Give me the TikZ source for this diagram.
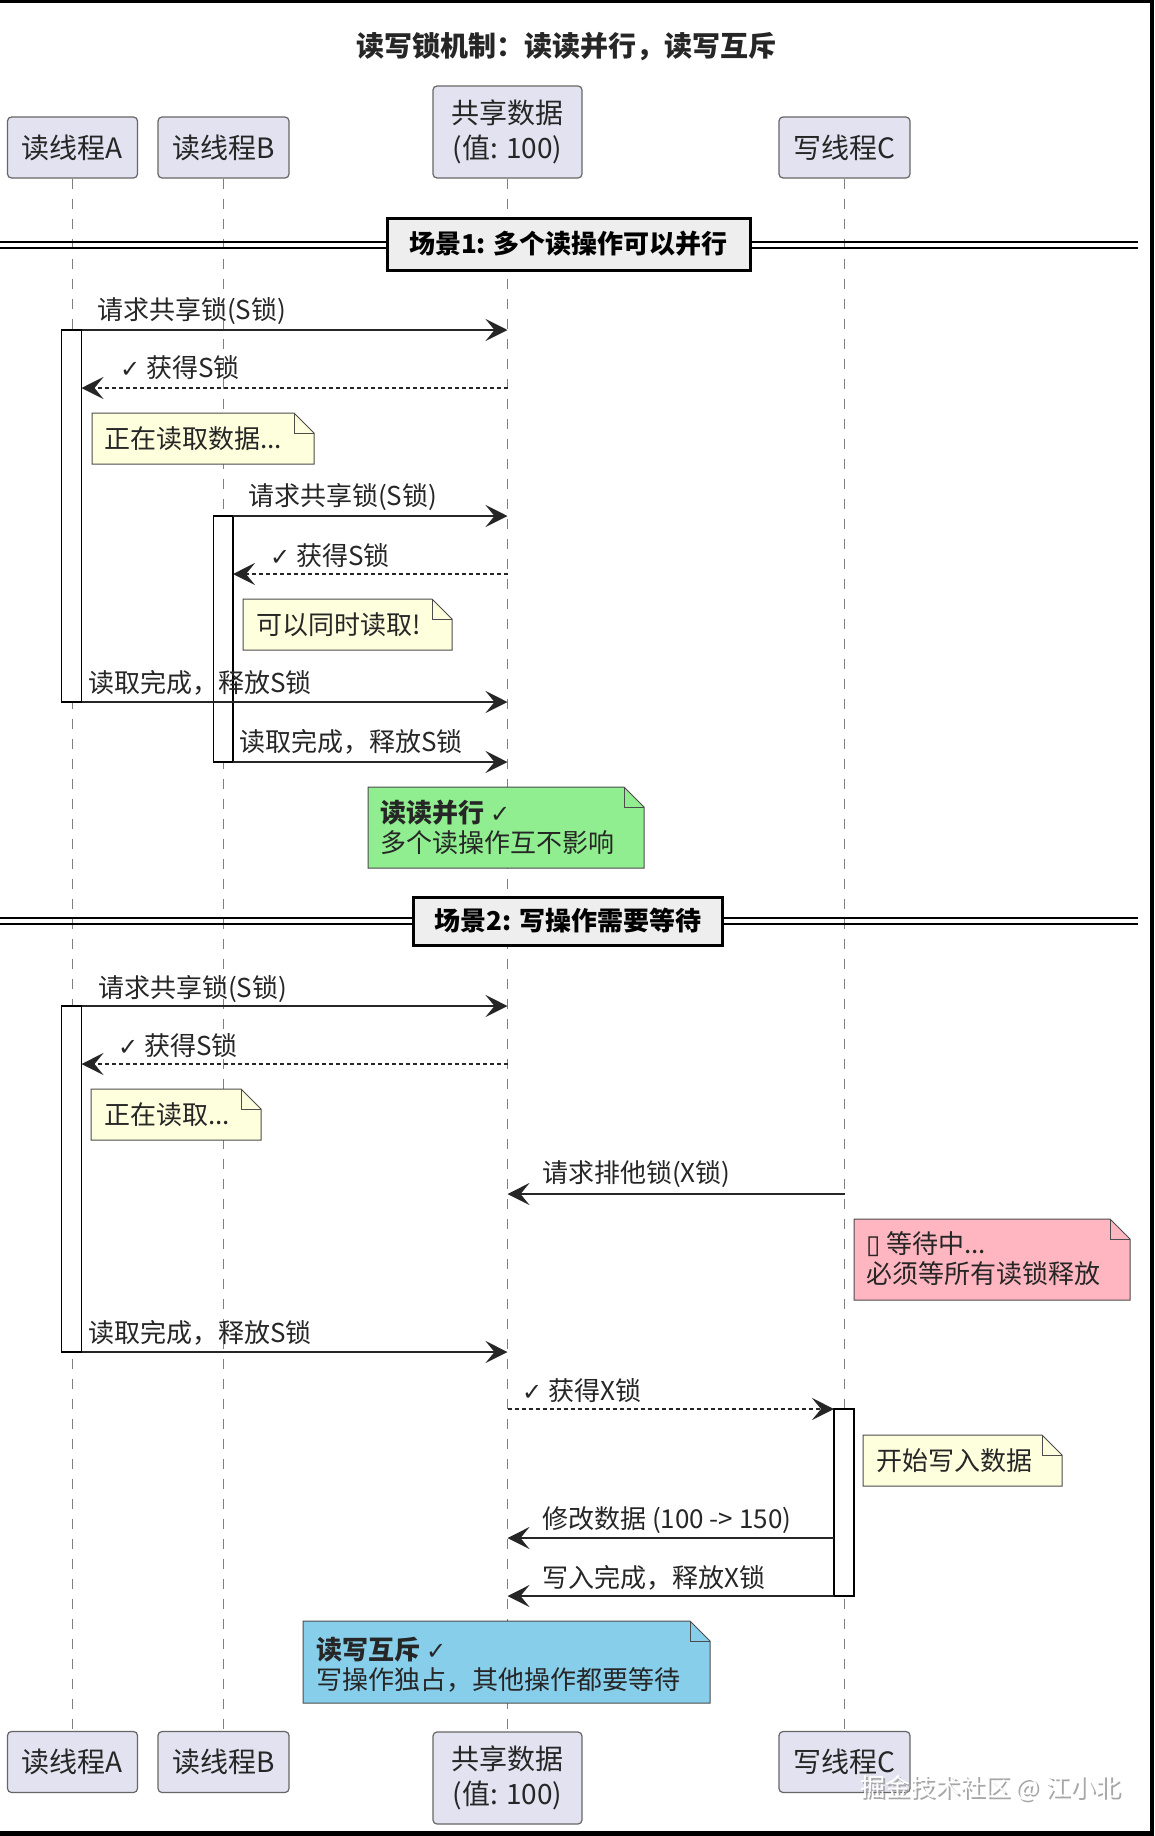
\documentclass[tikz,border=0pt]{standalone}
\usepackage{fontspec}
\setmainfont{Noto Sans CJK SC}
\newfontfamily\symfont{DejaVu Sans}
\usetikzlibrary{arrows.meta}

\definecolor{partfill}{HTML}{E2E2F0}
\definecolor{notefill}{HTML}{FEFFDD}
\definecolor{greenfill}{HTML}{90EE90}
\definecolor{pinkfill}{HTML}{FFB6C1}
\definecolor{bluefill}{HTML}{87CEEB}
\definecolor{divfill}{HTML}{EEEEEE}

\tikzset{
  part/.style={draw=gray!80!black, line width=1.2pt, fill=partfill, rounded corners=4pt,
    font=\fontsize{28}{35}\selectfont, text=black!85, align=center, inner sep=0pt},
  life/.style={draw=gray, line width=1pt, dash pattern=on 10pt off 10pt},
  actbar/.style={draw=black, line width=1.5pt, fill=white},
  msg/.style={line width=2pt, draw=black!85, -{Stealth[length=22pt,width=22pt,inset=9pt]}},
  ret/.style={msg, dash pattern=on 4pt off 3pt},
  lbl/.style={anchor=west, inner sep=0pt, font=\fontsize{26}{30}\selectfont, text=black!85},
  notefrm/.style={draw=gray!60!black, line width=1pt},
  notetxt/.style={anchor=west, inner sep=0pt, align=left, font=\fontsize{26}{30}\selectfont, text=black!85},
  divbox/.style={draw=black, line width=3pt, fill=divfill, inner sep=0pt,
    font=\bfseries\fontsize{26}{30}\selectfont},
}

% folded note: x1,y1,x2,y2,fill
\newcommand{\foldnote}[5]{%
  \draw[notefrm,fill=#5] (#1,#2) -- (#3-20,#2) -- (#3,#2+20) -- (#3,#4) -- (#1,#4) -- cycle;
  \draw[notefrm] (#3-20,#2) -- (#3-20,#2+20) -- (#3,#2+20);}
\newcommand{\ck}{{\symfont\fontsize{24}{26}\selectfont ✓}}

\begin{document}
\begin{tikzpicture}[x=1pt,y=-1pt]

% Frame
\useasboundingbox (0,0) rectangle (1154,1836);
\fill[black] (0,0) rectangle (1154,1836);
\fill[white] (0,3) rectangle (1150,1831);

% Title
\node[font=\bfseries\fontsize{28}{34}\selectfont, text=black!85] (title) at (566,47) {读写锁机制：读读并行，读写互斥};

% Participants
\node[part, minimum width=130pt, minimum height=61pt] (pA) at (72.5,147.5) {读线程A};
\node[part, minimum width=131pt, minimum height=61pt] (pB) at (223.5,147.5) {读线程B};
\node[part, minimum width=149pt, minimum height=92pt] (pD) at (507.5,132) {共享数据\\(值: 100)};
\node[part, minimum width=131pt, minimum height=61pt] (pC) at (844.5,147.5) {写线程C};

\node[part, minimum width=130pt, minimum height=61pt] (qA) at (72.5,1762) {读线程A};
\node[part, minimum width=131pt, minimum height=61pt] (qB) at (223.5,1762) {读线程B};
\node[part, minimum width=149pt, minimum height=92pt] (qD) at (507.5,1778) {共享数据\\(值: 100)};
\node[part, minimum width=131pt, minimum height=61pt] (qC) at (844.5,1762) {写线程C};

% Lifelines
\draw[life] (pA) -- (qA);
\draw[life] (pB) -- (qB);
\draw[life] (pD) -- (qD);
\draw[life] (pC) -- (qC);

% Scenario dividers
\draw[line width=2pt] (0,242) -- (1138,242);
\draw[line width=2pt] (0,248) -- (1138,248);
\node[divbox, minimum width=363pt, minimum height=52pt] (s1) at (568.5,244) {场景1: 多个读操作可以并行};
\draw[line width=2pt] (0,918) -- (1138,918);
\draw[line width=2pt] (0,924) -- (1138,924);
\node[divbox, minimum width=309pt, minimum height=48pt] (s2) at (568,921) {场景2: 写操作需要等待};

% Activations
\draw[actbar] (61.5,330) rectangle (81.5,702);
\draw[actbar] (213.5,516) rectangle (233,762);
\draw[actbar] (61.5,1006) rectangle (81.5,1352);
\draw[actbar] (834,1409) rectangle (854,1596);

% Notes
\foldnote{92}{413}{314}{464}{notefill}
\node[notetxt] (n1) at (104,438.5) {正在读取数据...};
\foldnote{243}{599}{452}{650}{notefill}
\node[notetxt] (n2) at (256,624.5) {可以同时读取!};
\foldnote{368}{787}{644}{868}{greenfill}
\node[notetxt] (n3) at (380,827) {\textbf{读读并行} \ck\\多个读操作互不影响};
\foldnote{91}{1089}{261}{1140}{notefill}
\node[notetxt] (n4) at (104,1114.5) {正在读取...};
\foldnote{854}{1219}{1130}{1300}{pinkfill}
\node[notetxt] (n5) at (866,1258.5) {{\symfont ▯} 等待中...\\必须等所有读锁释放};
\foldnote{863}{1435}{1062}{1486}{notefill}
\node[notetxt] (n6) at (876,1460.5) {开始写入数据};
\foldnote{303}{1621}{710}{1703}{bluefill}
\node[notetxt] (n7) at (316,1665) {\textbf{读写互斥} \ck\\写操作独占，其他操作都要等待};

% Scenario 1 messages
\coordinate (a1) at (81.5,330);
\draw[msg] (a1) -- (pD |- a1);
\node[lbl] (t1) at (97,311) {请求共享锁(S锁)};
\coordinate (a2) at (81.5,388);
\draw[ret] (pD |- a2) -- (a2);
\node[lbl] (t2) at (120,368) {\ck\ 获得S锁};
\coordinate (b1) at (233,516);
\draw[msg] (b1) -- (pD |- b1);
\node[lbl] (t3) at (248,497) {请求共享锁(S锁)};
\coordinate (b2) at (233,574);
\draw[ret] (pD |- b2) -- (b2);
\node[lbl] (t4) at (270,556) {\ck\ 获得S锁};
\coordinate (a3) at (81.5,702);
\draw[msg] (a3) -- (pD |- a3);
\node[lbl] (t5) at (88,683) {读取完成，释放S锁};
\coordinate (b3) at (233,762);
\draw[msg] (b3) -- (pD |- b3);
\node[lbl] (t6) at (239,742) {读取完成，释放S锁};

% Scenario 2 messages
\coordinate (a4) at (81.5,1006);
\draw[msg] (a4) -- (pD |- a4);
\node[lbl] (t7) at (98,989) {请求共享锁(S锁)};
\coordinate (a5) at (81.5,1064);
\draw[ret] (pD |- a5) -- (a5);
\node[lbl] (t8) at (118,1046) {\ck\ 获得S锁};
\coordinate (c1) at (pC |- 0,1194);
\draw[msg] (c1) -- (pD |- c1);
\node[lbl] (t9) at (542,1174) {请求排他锁(X锁)};
\coordinate (a6) at (81.5,1352);
\draw[msg] (a6) -- (pD |- a6);
\node[lbl] (t10) at (88,1333) {读取完成，释放S锁};
\coordinate (c2) at (834,1409);
\draw[ret] (pD |- c2) -- (c2);
\node[lbl] (t11) at (522,1391) {\ck\ 获得X锁};
\coordinate (c3) at (834,1538);
\draw[msg] (c3) -- (pD |- c3);
\node[lbl] (t12) at (542,1520) {修改数据 (100 -> 150)};
\coordinate (c4) at (834,1596);
\draw[msg] (c4) -- (pD |- c4);
\node[lbl] (t13) at (542,1578) {写入完成，释放X锁};

% Watermark
\node[lbl, font=\fontsize{25}{30}\selectfont, text=gray!70] (wms) at (862,1790) {掘金技术社区 @ 江小北};
\node[lbl, font=\fontsize{25}{30}\selectfont, text=white] (wm) at (860,1788) {掘金技术社区 @ 江小北};

\end{tikzpicture}
\end{document}
